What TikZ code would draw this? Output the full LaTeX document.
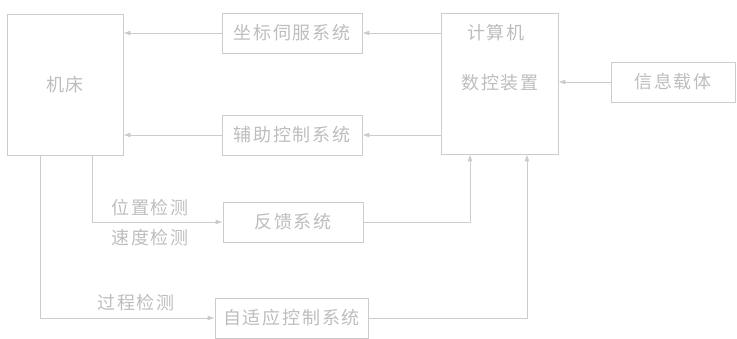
\documentclass[tikz,border=0pt]{standalone}
\usepackage{fontspec}
\setmainfont[LetterSpace=10]{Noto Sans CJK SC}
\usetikzlibrary{arrows.meta}
\definecolor{linec}{gray}{0.80}
\definecolor{textc}{gray}{0.74}
\begin{document}
\begin{tikzpicture}[x=1pt,y=-1pt,
  box/.style={draw=linec,line width=0.8pt,rectangle,inner sep=0pt,text=textc,font=\fontsize{18}{20}\selectfont},
  lbl/.style={text=textc,font=\fontsize{18}{20}\selectfont,inner sep=0pt},
  conn/.style={draw=linec,line width=0.8pt},
  arr/.style={conn,-{Latex[length=7pt,width=5pt]}}]
\useasboundingbox (0,0) rectangle (737,339);
\node[box,minimum width=116pt,minimum height=141pt] (machine) at (65,84.5) {机床};
\node[box,minimum width=140pt,minimum height=40pt] (servo) at (292,33) {坐标伺服系统};
\node[box,minimum width=140pt,minimum height=40pt] (aux) at (292,135) {辅助控制系统};
\node[box,minimum width=117pt,minimum height=141pt] (comp) at (499.5,83.5) {};
\node[lbl] (comp1) at (496,33) {计算机};
\node[lbl] (comp2) at (500,83) {数控装置};
\node[box,minimum width=124pt,minimum height=40pt] (info) at (673,82) {信息载体};
\node[box,minimum width=140pt,minimum height=40pt] (fb) at (293,222) {反馈系统};
\node[box,minimum width=153pt,minimum height=40pt] (adapt) at (291.5,318) {自适应控制系统};
\coordinate (m1) at (92,222);
\coordinate (m2) at (40,318);
\coordinate (c1) at (470,222);
\coordinate (c2) at (527,318);
\draw[arr] (comp.west |- servo) -- (servo.east);
\draw[arr] (servo.west) -- (machine.east |- servo);
\draw[arr] (comp.west |- aux) -- (aux.east);
\draw[arr] (aux.west) -- (machine.east |- aux);
\draw[arr] (info.west) -- (comp.east |- info);
\draw[arr] (machine.south -| m1) -- (m1) -- (fb.west);
\draw[arr] (machine.south -| m2) -- (m2) -- (adapt.west);
\draw[arr] (fb.east) -- (c1) -- (comp.south -| c1);
\draw[arr] (adapt.east) -- (c2) -- (comp.south -| c2);
\node[lbl] (l1) at (150,208) {位置检测};
\node[lbl] (l2) at (150,238) {速度检测};
\node[lbl] (l3) at (136,303) {过程检测};
\end{tikzpicture}
\end{document}
